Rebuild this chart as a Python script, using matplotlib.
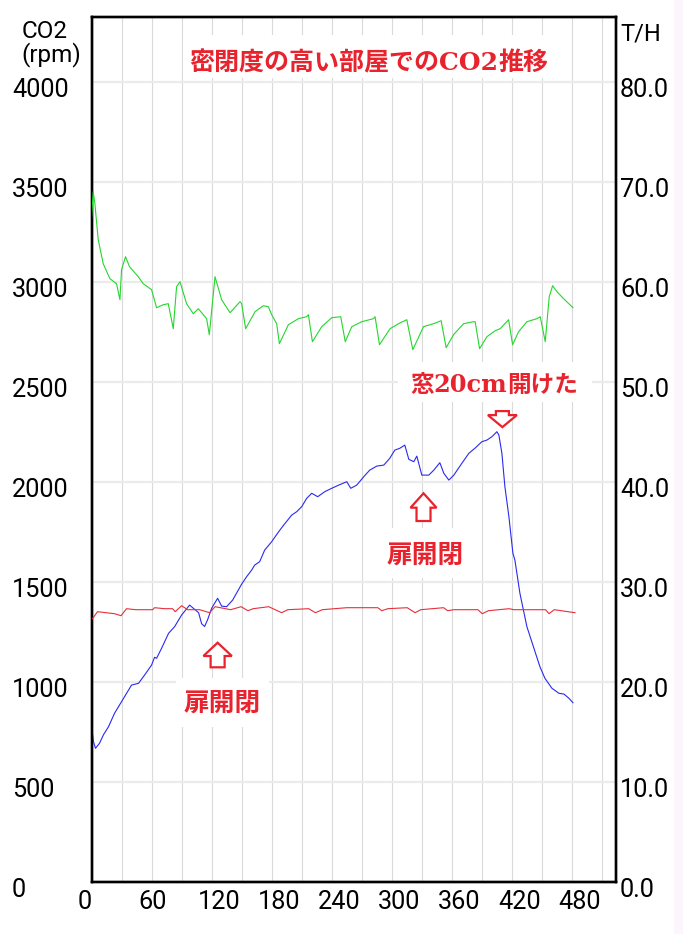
import matplotlib
matplotlib.use("Agg")
import matplotlib.pyplot as plt
import matplotlib.transforms as mtransforms
from matplotlib.patches import Polygon, Rectangle

# CO2 concentration (left axis), minutes
co2_t = [0, 2, 4, 8, 12, 17, 23, 30, 37, 40, 47, 53, 60, 63, 65, 70, 77, 83, 90, 98,
         103, 107, 110, 113, 116, 120, 126, 130, 135, 141, 150, 155, 160, 163, 168, 173,
         180, 187, 192, 200, 205, 210, 215, 220, 226, 233, 240, 247, 255, 259, 265, 272,
         278, 285, 292, 298, 303, 308, 313, 317, 322, 325, 330, 337, 342, 348, 352, 357,
         362, 370, 377, 383, 390, 395, 400, 405, 407, 410, 413, 417, 421, 423, 428, 435,
         442, 448, 453, 460, 467, 472, 477, 481]
co2_v = [780, 700, 667, 692, 735, 775, 842, 900, 958, 983, 992, 1033, 1083, 1122, 1117,
         1167, 1242, 1275, 1333, 1383, 1362, 1345, 1290, 1276, 1310, 1367, 1417, 1378,
         1375, 1408, 1488, 1525, 1558, 1583, 1600, 1658, 1700, 1750, 1783, 1833, 1850,
         1875, 1917, 1942, 1925, 1950, 1967, 1983, 2000, 1967, 1983, 2025, 2058, 2078,
         2083, 2117, 2158, 2167, 2183, 2112, 2100, 2128, 2033, 2033, 2058, 2095, 2042,
         2008, 2033, 2092, 2142, 2167, 2200, 2208, 2225, 2250, 2233, 2142, 1975, 1825,
         1642, 1608, 1442, 1275, 1167, 1075, 1017, 967, 942, 938, 917, 895]

# humidity (right axis)
hum_t = [0, 1.7, 3.4, 6.7, 11.7, 18.4, 25, 28.4, 30, 34, 38, 46.7, 51.7, 60, 65, 71.7,
         76.7, 81.7, 85, 88.4, 95, 101.7, 106.7, 115, 117.7, 123.4, 130, 138.4, 148.4,
         150, 154, 163.4, 171.7, 176.7, 180, 185, 187.7, 196.7, 206.7, 215, 216.7, 220.7,
         230, 240, 249, 253.5, 260, 270, 281.7, 283.3, 287.7, 298.3, 306.7, 315, 321,
         331.7, 341.7, 349.3, 354.3, 361.7, 371.7, 381.7, 383.3, 387.7, 395, 403.3,
         408.3, 416.7, 420.7, 426.7, 435, 445, 448.3, 453.3, 457.3, 460.7, 465, 471.7, 481]
hum_v = [66.3, 69.0, 67.8, 64.2, 61.8, 60.3, 59.8, 58.2, 61.2, 62.5, 61.5, 60.5, 59.8,
         59.2, 57.4, 57.7, 57.8, 55.3, 59.5, 60.0, 57.8, 56.8, 57.3, 56.3, 54.7, 60.5,
         58.2, 56.9, 58.0, 57.8, 55.3, 57.0, 57.6, 57.5, 56.7, 55.8, 53.8, 55.7, 56.3,
         56.5, 56.7, 54.0, 55.5, 56.4, 56.5, 54.0, 55.5, 56.0, 56.3, 56.5, 53.7, 55.3,
         55.8, 56.2, 53.2, 55.5, 55.8, 56.1, 53.4, 54.7, 55.8, 56.0, 56.0, 53.3, 54.5,
         55.1, 55.3, 56.2, 53.7, 55.0, 56.0, 56.3, 56.5, 54.0, 58.5, 59.6, 59.0, 58.3, 57.4]

# temperature (right axis)
temp_t = [0, 1, 6, 23, 29.5, 35, 44, 61, 63, 73, 81, 83.7, 90, 96, 108, 118, 123.5, 134,
          139, 149.4, 156.3, 161.5, 177, 190, 196, 217, 223.7, 230.6, 255, 286, 290, 296,
          315.4, 323.3, 329, 351.7, 355.8, 362, 386, 390.4, 396.6, 417.3, 422, 453.6,
          457.1, 462.3, 483]
temp_v = [26.3, 26.3, 27.0, 26.8, 26.6, 27.3, 27.2, 27.2, 27.4, 27.3, 27.3, 27.0, 27.6,
          27.2, 27.2, 26.9, 27.5, 27.3, 27.2, 27.5, 27.1, 27.3, 27.5, 26.9, 27.2, 27.3,
          26.9, 27.2, 27.4, 27.4, 27.1, 27.3, 27.4, 26.9, 27.2, 27.4, 27.1, 27.2, 27.2,
          26.8, 27.1, 27.3, 27.2, 27.2, 26.8, 27.2, 26.9]

x_ticks = [0, 60, 120, 180, 240, 300, 360, 420, 480]
x_minor = [30, 90, 150, 210, 270, 330, 390, 450, 510]
left_ticks = [0, 500, 1000, 1500, 2000, 2500, 3000, 3500, 4000]
right_ticks = [0, 10, 20, 30, 40, 50, 60, 70, 80]
right_labels = ["0.0", "10.0", "20.0", "30.0", "40.0", "50.0", "60.0", "70.0", "80.0"]

W, H = 683, 934
RED = "#e8232d"
CJK = ["Noto Sans CJK JP", "DejaVu Sans"]
plt.rcParams["font.family"] = ["Roboto", "DejaVu Sans"]

fig = plt.figure(figsize=(W / 100, H / 100), dpi=100)
fig.patches.append(Rectangle((674 / W, 0), 9 / W, 1, transform=fig.transFigure,
                             fc="#fcf6fc", ec="none", zorder=0))


def fx(px):
    return px / W


def fy(py):
    return 1 - py / H


ax = fig.add_axes([fx(91.5), fy(881.7), (616 - 91.5) / W, (881.7 - 16.7) / H])
ax2 = ax.twinx()

ax.plot(co2_t, co2_v, color="#2a2af0", lw=0.8, zorder=3)
ax2.plot(hum_t, hum_v, color="#25d62e", lw=0.8, zorder=3)
ax2.plot(temp_t, temp_v, color="#e5303a", lw=0.8, zorder=3)

ax.set_xticks(x_ticks)
ax.set_xticks(x_minor, minor=True)
ax.set_yticks(left_ticks)
ax2.set_yticks(right_ticks, right_labels)
ax.grid(axis="y", color="#ebebeb", lw=1.6)
ax.grid(axis="x", which="both", color="#dadada", lw=0.8)

ax.tick_params(axis="y", length=0, pad=57.2, labelsize=18.2)
ax.tick_params(axis="x", which="both", length=0, pad=6, labelsize=18.2)
ax2.tick_params(axis="y", length=0, pad=2.9, labelsize=18.2)

dy = mtransforms.ScaledTranslation(0, -0.06, fig.dpi_scale_trans)
dx = mtransforms.ScaledTranslation(-0.135, 0, fig.dpi_scale_trans)
for lab in ax.get_yticklabels():
    lab.set_ha("left")
    lab.set_transform(lab.get_transform() + dy)
for lab in ax2.get_yticklabels():
    lab.set_transform(lab.get_transform() + dy)
for lab in ax.get_xticklabels():
    lab.set_ha("left")
    lab.set_transform(lab.get_transform() + dx)

for a in (ax, ax2):
    for sp in a.spines.values():
        sp.set_linewidth(1.7)
        sp.set_color("black")

# axis titles
fig.text(fx(21.5), fy(20), "CO2\n(rpm)", fontsize=17.5, va="top", ha="left",
         multialignment="left", linespacing=0.95)
fig.text(fx(620), fy(40), "T/H", fontsize=17, va="baseline")


def white_box(x0, y0, x1, y1):
    ax2.add_patch(Rectangle((fx(x0), fy(y1)), (x1 - x0) / W, (y1 - y0) / H,
                            transform=fig.transFigure, fc="white", ec="none",
                            zorder=1, clip_on=False))


def mixed_text(x_px, base_px, parts):
    prev = None
    for s, fam, size in parts:
        if prev is None:
            prev = ax2.annotate(s, xy=(fx(x_px), fy(base_px)), xycoords="figure fraction",
                                ha="left", va="baseline", color=RED, fontsize=size,
                                family=fam, weight="bold", zorder=5)
        else:
            prev = ax2.annotate(s, xy=(1, fy(base_px)), xycoords=(prev, "figure fraction"),
                                ha="left", va="baseline", color=RED, fontsize=size,
                                family=fam, weight="bold", zorder=5)


def hollow_arrow(t, v, hw, hl, sw, L, up=True):
    s = 1 if up else -1
    pts = [(0, 0), (hw, -hl * s), (sw, -hl * s), (sw, -L * s), (-sw, -L * s),
           (-sw, -hl * s), (-hw, -hl * s)]
    pts = [(px / 100, py / 100) for px, py in pts]
    trans = fig.dpi_scale_trans + mtransforms.ScaledTranslation(t, v, ax.transData)
    ax2.add_patch(Polygon(pts, closed=True, transform=trans, fc="white", ec=RED,
                          lw=1.6, zorder=4, clip_on=False))


# title
white_box(183, 35, 562, 78)
mixed_text(189.5, 70, [("密閉度の高い部屋での", CJK, 18), ("CO2", "DejaVu Serif", 18),
                       ("推移", CJK, 18)])

# window opened
white_box(398, 362, 592, 402)
mixed_text(410, 392, [("窓", CJK, 17), ("20cm", "DejaVu Serif", 17.3),
                      ("開けた", CJK, 17)])
hollow_arrow(410.5, 2273, 14.5, 12, 6.5, 16, up=False)

# door open/close
white_box(176, 678, 269, 727)
ax2.text(fx(222), fy(703), "扉開閉", transform=fig.transFigure, ha="center", va="center",
         color=RED, fontsize=18.5, family=CJK, weight="bold", zorder=5)
hollow_arrow(126, 1195, 14.2, 13.3, 7, 24.6)

white_box(385, 528, 467, 578)
ax2.text(fx(425.5), fy(555), "扉開閉", transform=fig.transFigure, ha="center", va="center",
         color=RED, fontsize=18.5, family=CJK, weight="bold", zorder=5)
hollow_arrow(331.7, 1942, 13, 14.4, 7, 27.7)

ax.set_xlim(0, 524)
ax.set_ylim(0, 4325)
ax2.set_ylim(0, 86.5)

fig.savefig("out.png", dpi=100)
